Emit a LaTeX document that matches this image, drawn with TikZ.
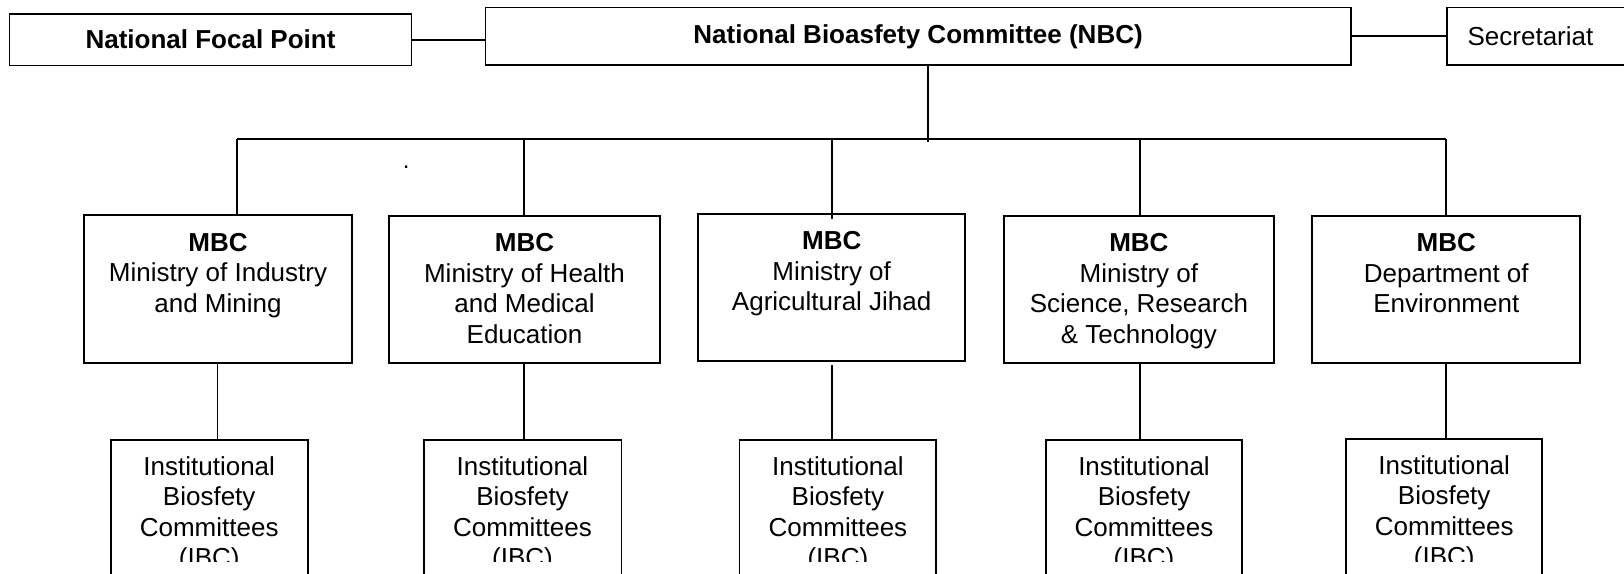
\documentclass[tikz,border=0pt]{standalone}
\usepackage{fontspec}
\setmainfont{Liberation Sans}
\begin{document}
\begin{tikzpicture}[x=1pt, y=-1pt,
  every node/.style={inner sep=0pt},
  conn/.style={line width=1.8pt},
  box/.style={draw, line width=1.8pt, rectangle},
  headbox/.style={box, font=\fontsize{26}{30.5}\selectfont\bfseries,
    text height=18.6pt, text depth=0pt},
  mbcbox/.style={box, minimum height=147.5pt},
  ibcbox/.style={box, minimum height=160pt},
  boxtext/.style={font=\fontsize{26}{30.5}\selectfont, align=center, anchor=north},
]
\useasboundingbox (0,0) rectangle (1624,573);
\clip (0,0) rectangle (1624,573);

% top row
\node[headbox, minimum width=402pt, minimum height=51.6pt] (nfp) at (210.5,39.6) {National Focal Point};
\node[headbox, minimum width=865.2pt, minimum height=57.6pt, text depth=4pt] (nbc) at (918.1,36.3) {National Bioasfety Committee (NBC)};
\node[headbox, font=\fontsize{26}{30.5}\selectfont, anchor=west, text width=170pt, align=left,
      inner xsep=20.7pt, minimum height=57.6pt] (sec) at (1446,36.2) {Secretariat};

\draw[conn] (nfp.east) -- (nbc.west |- nfp.east);
\draw[conn] (nbc.east |- sec.west) -- (sec.west);

% ministry boxes
\node[mbcbox, minimum width=268.2pt] (m1) at (218,289) {};
\node[mbcbox, minimum width=270.3pt] (m2) at (524.5,289.5) {};
\node[mbcbox, minimum width=267.2pt] (m3) at (831.7,287.5) {};
\node[mbcbox, minimum width=270.5pt] (m4) at (1138.9,289.5) {};
\node[mbcbox, minimum width=268pt] (m5) at (1446.3,289.6) {};

\node[boxtext] (t1) at ([yshift=-18.5pt]m1.north) {\textbf{MBC}\\Ministry of Industry\\and Mining};
\node[boxtext] (t2) at ([yshift=-18.5pt]m2.north) {\textbf{MBC}\\Ministry of Health\\and Medical\\Education};
\node[boxtext] (t3) at ([yshift=-18.5pt]m3.north) {\textbf{MBC}\\Ministry of\\Agricultural Jihad};
\node[boxtext] (t4) at ([yshift=-18.5pt]m4.north) {\textbf{MBC}\\Ministry of\\Science, Research\\\& Technology};
\node[boxtext] (t5) at ([yshift=-18.5pt]m5.north) {\textbf{MBC}\\Department of\\Environment};

% bus from the committee to the ministries
\coordinate (nd) at (928,139.3);
\coordinate (b1) at (237.2,139.3);
\coordinate (b2) at (524.1,139.3);
\coordinate (b3) at (831.7,139.3);
\coordinate (b4) at (1140.3,139.3);
\coordinate (b5) at (1446,139.3);
\draw[conn] (nd |- nbc.south) -- ([yshift=-2.4pt]nd);
\draw[conn] (b1) -- (b5);
\draw[conn] (b1) -- (b1 |- m1.north);
\draw[conn] (b2) -- (b2 |- m2.north);
\draw[conn] (b3) -- ([yshift=-6pt]b3 |- m3.north);
\draw[conn] (b4) -- (b4 |- m4.north);
\draw[conn] (b5) -- (b5 |- m5.north);

% institutional committees
\node[ibcbox, minimum width=196.8pt] (i1) at (209.2,520) {};
\node[ibcbox, minimum width=197.8pt] (i2) at (522.5,520) {};
\node[ibcbox, minimum width=196.8pt] (i3) at (837.9,520) {};
\node[ibcbox, minimum width=195.7pt] (i4) at (1144,520) {};
\node[ibcbox, minimum width=196.3pt] (i5) at (1444.2,519.3) {};

\draw[conn] ([xshift=-0.5pt]m1.south) -- ([xshift=-0.5pt]m1.south |- i1.north);
\draw[conn] ([xshift=-0.4pt]m2.south) -- ([xshift=-0.4pt]m2.south |- i2.north);
\draw[conn] ([yshift=-3pt]m3.south) -- (m3.south |- i3.north);
\draw[conn] ([xshift=1.4pt]m4.south) -- ([xshift=1.4pt]m4.south |- i4.north);
\draw[conn] ([xshift=-0.3pt]m5.south) -- ([xshift=-0.3pt]m5.south |- i5.north);

\begin{scope}
  \clip (0,0) rectangle (1624,561.7);
  \node[boxtext] (u1) at ([yshift=-17pt]i1.north) {Institutional\\Biosfety\\Committees\\(IBC)};
  \node[boxtext] (u2) at ([yshift=-17pt]i2.north) {Institutional\\Biosfety\\Committees\\(IBC)};
  \node[boxtext] (u3) at ([yshift=-17pt]i3.north) {Institutional\\Biosfety\\Committees\\(IBC)};
  \node[boxtext] (u4) at ([yshift=-17pt]i4.north) {Institutional\\Biosfety\\Committees\\(IBC)};
  \node[boxtext] (u5) at ([yshift=-17pt]i5.north) {Institutional\\Biosfety\\Committees\\(IBC)};
\end{scope}

% stray full stop
\node[font=\fontsize{24}{26}\selectfont] (dot) at (406.3,167.7) {.};
\end{tikzpicture}
\end{document}
